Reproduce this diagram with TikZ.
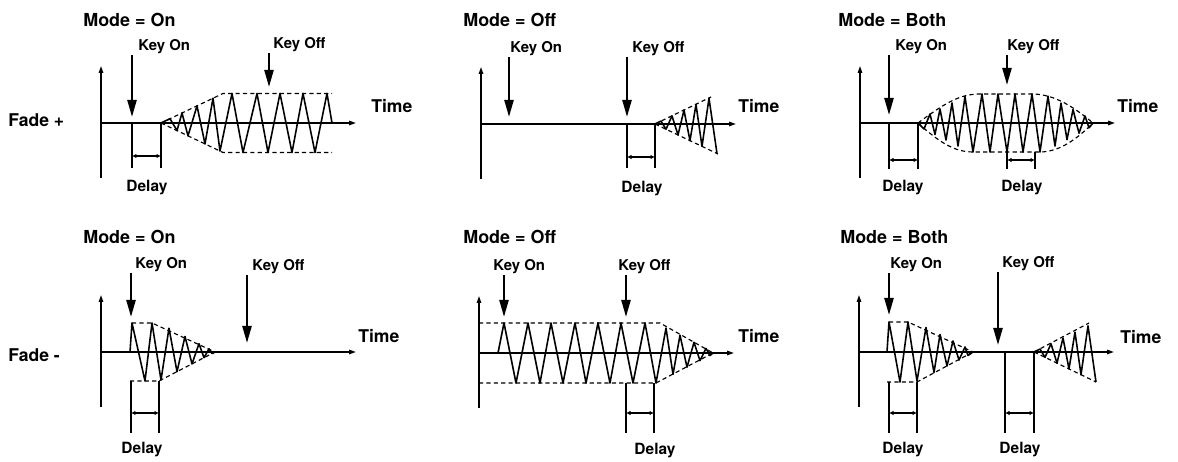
\documentclass[tikz,border=0pt]{standalone}
\usepackage{fontspec}
\setmainfont{TeX Gyre Heros}
\usetikzlibrary{arrows.meta}
\tikzset{
  axis/.style={-{Triangle[length=1.4mm,width=0.9mm]}, line width=0.8pt},
  wave/.style={line width=0.9pt, line join=round},
  envelope/.style={line width=0.65pt, dash pattern=on 2.4pt off 1.8pt},
  keyarrow/.style={-{Triangle[length=3.4mm,width=1.8mm]}, line width=1.3pt},
  delayline/.style={line width=1.2pt},
  bracket/.style={{Latex[length=0.9mm,width=0.9mm]}-{Latex[length=0.9mm,width=0.9mm]}, line width=0.9pt},
  keylbl/.style={anchor=west, inner sep=0pt, font=\fontsize{8.5}{10}\selectfont\bfseries},
  modelbl/.style={anchor=west, inner sep=0pt, font=\fontsize{10.2}{12}\selectfont\bfseries},
  timelbl/.style={anchor=west, inner sep=0pt, font=\fontsize{10}{12}\selectfont\bfseries},
  delaylbl/.style={inner sep=0pt, font=\fontsize{8.8}{10}\selectfont\bfseries},
  fadelbl/.style={anchor=west, inner sep=0pt, font=\fontsize{10}{12}\selectfont\bfseries}
}
% axes of one panel
\newcommand\axes[1]{%
  \coordinate (#1o) at (0,0); \coordinate (#1b) at (0,-55);
  \coordinate (#1y) at (0,57); \coordinate (#1x) at (255,0);
  \draw[axis] (#1b) -- (#1y); \draw[axis] (#1o) -- (#1x);}
% key arrow: name, x, top, tip, label x, text
\newcommand\keymark[6]{%
  \coordinate (#1top) at (#2,#3); \coordinate (#1tip) at (#2,#4);
  \node[keylbl] (#1) at (#5,{#3+8}) {#6};
  \draw[keyarrow] (#1top) -- (#1tip);}
% delay: name, x left, x right, top, bottom, bracket y, label x, label y
\newcommand\delaymark[8]{%
  \coordinate (#1a) at (#2,#4); \coordinate (#1b) at (#2,#5);
  \coordinate (#1c) at (#3,#4); \coordinate (#1d) at (#3,#5);
  \coordinate (#1l) at (#2,#6); \coordinate (#1r) at (#3,#6);
  \draw[delayline] (#1a) -- (#1b) (#1c) -- (#1d);
  \draw[bracket] (#1l) -- (#1r);
  \node[delaylbl] (#1) at (#7,#8) {Delay};}
% zigzag with linear envelope from (#1,#2) to (#3,#4), extremes x/sign
\newcommand\zigzag[5]{%
  \foreach \xx/\ss in {#5}{ -- (\xx,{\ss*(#2+(#4-#2)*(\xx-#1)/(#3-#1))}) }}

\begin{document}
\begin{tikzpicture}[x=0.02cm,y=0.02cm]
  \useasboundingbox (0,0) rectangle (1178,462);
  \node[fadelbl] (fadeplus) at (8,342) {Fade +};
  \node[fadelbl] (fademinus) at (8,107) {Fade -};

  % Fade +, Mode = On
  \begin{scope}[shift={(101,339)}]
    \node[modelbl] (amode) at (-18,103) {Mode = On};
    \node[timelbl] (atime) at (270,17) {Time};
    \axes{a}
    \draw[envelope] (60,0) -- (122,29.5) -- (231,29.5) (60,0) -- (122,-29.5) -- (231,-29.5);
    \draw[wave] (60,0) \zigzag{60}{0}{122}{29.5}{69/1,76/-1,81/1,87/-1,96/1,104/-1,112/1,119/-1}
      \zigzag{0}{29.5}{1}{29.5}{131/1,142/-1,156/1,167/-1,179/1,191/-1,202/1,214/-1,226/1} -- (231,0);
    \keymark{aon}{31}{68}{6}{37}{Key On}
    \keymark{aoff}{168}{70}{36}{172}{Key Off}
    \delaymark{ad}{31}{60}{0}{-45}{-33}{46}{-65}
  \end{scope}

  % Fade +, Mode = Off
  \begin{scope}[shift={(481,338)}]
    \node[modelbl] (bmode) at (-18,104) {Mode = Off};
    \node[timelbl] (btime) at (257,18) {Time};
    \axes{b}
    \draw[envelope] (174,0) -- (230,27) (174,0) -- (237,-30);
    \draw[wave] (174,0) \zigzag{174}{0}{236}{29.5}{180/1,185/-1,191/1,197/-1,203/1,209/-1,215/1,221/-1,228/1,236/-1};
    \keymark{bon}{28}{67}{7}{29}{Key On}
    \keymark{boff}{146}{67}{7}{151}{Key Off}
    \delaymark{bd}{146}{174}{0}{-44}{-33}{161}{-65}
  \end{scope}

  % Fade +, Mode = Both
  \begin{scope}[shift={(860,339)}]
    \node[modelbl] (cmode) at (-22,103) {Mode = Both};
    \node[timelbl] (ctime) at (257,17) {Time};
    \axes{c}
    \draw[envelope] (58,0) .. controls (85,20) and (100,29) .. (120,29) -- (172,29)
      .. controls (195,29) and (215,15) .. (233,0);
    \draw[envelope] (58,0) .. controls (80,-20) and (95,-29) .. (113,-29) -- (180,-29)
      .. controls (200,-29) and (218,-15) .. (233,0);
    \draw[wave] (58,0) \zigzag{52}{0}{110}{29}{64/-1,70/1,75/-1,80/1,86/-1,92/1,98/-1,105/1}
      \zigzag{0}{29}{1}{29}{113/-1,122/1,130/-1,138/1,147/-1,155/1,163/-1,172/1,180/-1}
      \zigzag{184}{29}{238}{0}{188/1,195/-1,201/1,207/-1,213/1,219/-1,225/1,229/-1} -- (233,0);
    \keymark{con}{29}{68}{8}{35}{Key On}
    \keymark{coff}{147}{68}{38}{147}{Key Off}
    \delaymark{cda}{29}{58}{0}{-46}{-37}{43}{-65}
    \delaymark{cdb}{147}{175}{-29}{-46}{-37}{162}{-65}
  \end{scope}

  % Fade -, Mode = On
  \begin{scope}[shift={(101,110)}]
    \node[modelbl] (dmode) at (-18,115) {Mode = On};
    \node[timelbl] (dtime) at (257,16) {Time};
    \axes{d}
    \draw[envelope] (31,29) -- (51,29) -- (114,0) (29,-29) -- (58,-29) -- (114,0);
    \draw[wave] (29,0) -- (31,29) -- (44,-29) -- (51,29)
      \zigzag{58}{29}{114}{0}{60/-1,68/1,76/-1,84/1,91/-1,98/1,103/-1,108/1,111/-1} -- (114,0);
    \keymark{don}{30}{79}{35}{34}{Key On}
    \keymark{doff}{146}{77}{9}{151}{Key Off}
    \delaymark{dd}{30}{58}{-29}{-81}{-61}{41}{-98}
  \end{scope}

  % Fade -, Mode = Off
  \begin{scope}[shift={(479,109)}]
    \node[modelbl] (emode) at (-16,116) {Mode = Off};
    \node[timelbl] (etime) at (259,17) {Time};
    \axes{e}
    \draw[envelope] (0,30) -- (181,30) -- (234,0) (0,-30) -- (177,-30) -- (234,0);
    \draw[wave] (19,0) \zigzag{0}{30}{1}{30}{25/1,37/-1,49/1,61/-1,72/1,84/-1,96/1,107/-1,119/1,131/-1,142/1,154/-1,166/1,177/-1}
      \zigzag{177}{30}{236}{0}{187/1,194/-1,201/1,208/-1,215/1,221/-1,227/1,231/-1} -- (234,0);
    \keymark{eon}{25}{78}{36}{14}{Key On}
    \keymark{eoff}{147}{78}{36}{139}{Key Off}
    \delaymark{ed}{147}{175}{-30}{-80}{-60}{176}{-98}
  \end{scope}

  % Fade -, Mode = Both
  \begin{scope}[shift={(859,110)}]
    \node[modelbl] (fmode) at (-19,115) {Mode = Both};
    \node[timelbl] (ftime) at (261,15) {Time};
    \axes{f}
    \draw[envelope] (30,30) -- (49,30) -- (114,0) (28,-30) -- (58,-30) -- (114,0);
    \draw[envelope] (175,0) -- (230,29) (175,0) -- (237,-30);
    \draw[wave] (28,0) -- (30,30) -- (41,-30) -- (49,30)
      \zigzag{56}{30}{116}{0}{58/-1,67/1,75/-1,81/1,88/-1,94/1,100/-1,106/1,109/-1} -- (114,0);
    \draw[wave] (175,0) \zigzag{175}{0}{237}{30}{181/1,186/-1,192/1,198/-1,204/1,210/-1,216/1,222/-1,229/1,237/-1};
    \keymark{fon}{30}{79}{37}{31}{Key On}
    \keymark{foff}{139}{80}{7}{143}{Key Off}
    \delaymark{fda}{30}{58}{-30}{-81}{-61}{44}{-98}
    \delaymark{fdb}{146}{175}{0}{-81}{-61}{161}{-98}
  \end{scope}
\end{tikzpicture}
\end{document}
